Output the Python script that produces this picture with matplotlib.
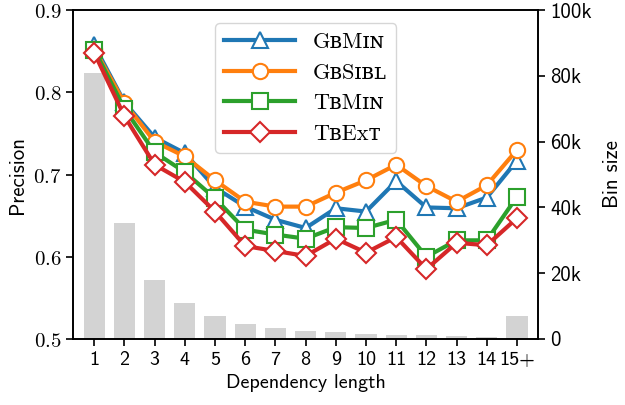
import matplotlib.pyplot as plt
import numpy as np

# data
lengths = ["1", "2", "3", "4", "5", "6", "7", "8", "9", "10", "11", "12", "13", "14", "15+"]
bin_size = [80.9, 35.3, 17.9, 10.8, 6.9, 4.7, 3.4, 2.5, 2.1, 1.6, 1.3, 1.1, 1.0, 0.7, 7.0]  # thousands

gb_min = [0.857, 0.788, 0.745, 0.726, 0.684, 0.661, 0.645, 0.635, 0.659, 0.655, 0.692, 0.660, 0.659, 0.672, 0.717]
gb_sibl = [0.853, 0.787, 0.740, 0.722, 0.693, 0.667, 0.661, 0.661, 0.678, 0.693, 0.712, 0.686, 0.667, 0.687, 0.730]
tb_min = [0.852, 0.780, 0.727, 0.703, 0.671, 0.633, 0.627, 0.622, 0.636, 0.635, 0.645, 0.600, 0.620, 0.620, 0.673]
tb_ext = [0.848, 0.771, 0.712, 0.691, 0.655, 0.613, 0.607, 0.601, 0.622, 0.605, 0.624, 0.585, 0.617, 0.614, 0.647]

names = ["GʙMɪɴ", "GʙSɪʙʟ", "TʙMɪɴ", "TʙExᴛ"]
colors = ["#1f77b4", "#ff7f0e", "#2ca02c", "#d62728"]
markers = ["^", "o", "s", "D"]

plt.rcParams["mathtext.fontset"] = "cm"
sans = ["cmss10", "DejaVu Sans"]
serif = ["cmr10", "DejaVu Serif"]

x = np.arange(1, len(lengths) + 1)

fig = plt.figure(figsize=(6.25, 4.05), dpi=100)
ax = fig.add_axes([0.117, 0.163, 0.744, 0.812])
ax2 = ax.twinx()

ax2.bar(x, bin_size, width=0.7, color="#d3d3d3")
ax2.set_ylim(0, 100)
ax2.set_yticks([0, 20, 40, 60, 80, 100])
ax2.set_yticklabels(["0", "20k", "40k", "60k", "80k", "100k"], family=sans, fontsize=15)
ax2.set_ylabel("Bin size", family=sans, fontsize=15, labelpad=8)

for vals, name, c, m in zip([gb_min, gb_sibl, tb_min, tb_ext], names, colors, markers):
    ax.plot(x, vals, color=c, lw=3, marker=m, ms=11 if m != "D" else 10,
            mfc="white", mec=c, mew=1.5, label=name)

ax.set_zorder(ax2.get_zorder() + 1)
ax.patch.set_visible(False)

ax.set_xlim(0.3, 15.7)
ax.set_ylim(0.5, 0.9)
ax.set_yticks([0.5, 0.6, 0.7, 0.8, 0.9])
ax.set_yticklabels([r"$0.5$", r"$0.6$", r"$0.7$", r"$0.8$", r"$0.9$"], fontsize=15)
ax.set_xticks(x)
ax.set_xticklabels(lengths, family=sans, fontsize=14.5)
ax.set_xlabel("Dependency length", family=sans, fontsize=14.5)
ax.set_ylabel("Precision", family=sans, fontsize=15)

for a in (ax, ax2):
    for s in a.spines.values():
        s.set_linewidth(1.2)
    a.tick_params(width=1.2, length=5)

ax.legend(loc="upper center", prop={"family": serif, "size": 16}, handlelength=3.2,
          borderaxespad=0.6, labelspacing=0.5)

plt.savefig("out.png")
